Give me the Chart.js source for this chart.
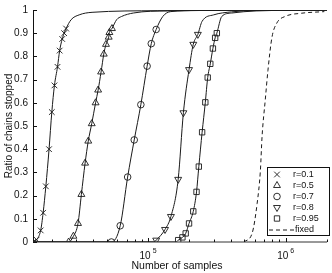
<!DOCTYPE html>
<html>
<head>
<meta charset="utf-8">
<script src="https://cdn.jsdelivr.net/npm/chart.js@4"></script>
<style>
  html, body { margin: 0; padding: 0; background: #fff; }
  #wrap { width: 332px; height: 273px; }
</style>
</head>
<body>
<div id="wrap"><canvas id="chart" width="332" height="273"></canvas></div>
<script>
// axis range and ticks
const xMin = 14600;
const xMax = 2000000;
const yTicks = [0, 0.1, 0.2, 0.3, 0.4, 0.5, 0.6, 0.7, 0.8, 0.9, 1];
const decadeLabels = [{ v: 1e5, base: '10', exp: '5' }, { v: 1e6, base: '10', exp: '6' }];
const xTitle = 'Number of samples';
const yTitle = 'Ratio of chains stopped';

const seriesLabels = ['r=0.1', 'r=0.5', 'r=0.7', 'r=0.8', 'r=0.95', 'fixed'];

// r = 0.1 (markers, then the rest of the curve)
const r01X = [14600, 15500, 16600, 17300, 18100, 19100, 20000, 20900, 22000, 22800, 23800, 24600, 25400];
const r01Y = [0, 0.01, 0.05, 0.126, 0.24, 0.40, 0.56, 0.675, 0.755, 0.825, 0.875, 0.90, 0.92];
const r01TailX = [27600, 31600, 39200, 117900];
const r01TailY = [0.958, 0.979, 0.99, 0.997];

// r = 0.5
const r05X = [26500, 28700, 31000, 32800, 34900, 36800, 39000, 41600, 43400, 45600, 47700, 49500, 51800, 52400, 54700];
const r05Y = [0, 0.025, 0.08, 0.205, 0.34, 0.435, 0.51, 0.60, 0.655, 0.733, 0.81, 0.852, 0.883, 0.903, 0.92];
const r05TailX = [59100, 64200, 78200, 139000];
const r05TailY = [0.958, 0.972, 0.987, 0.996];

// r = 0.7
const r07X = [54200, 62800, 71100, 79400, 88700, 98500, 105600, 114600];
const r07Y = [0, 0.07, 0.28, 0.44, 0.592, 0.758, 0.855, 0.916];
const r07TailX = [128000, 146000, 227000];
const r07TailY = [0.972, 0.993, 0.998];

// r = 0.8
const r08X = [114600, 132900, 146700, 165600, 180700, 198600, 213200, 230200];
const r08Y = [0.008, 0.054, 0.11, 0.27, 0.557, 0.743, 0.852, 0.895];
const r08LeadX = [110000];
const r08TailX = [247000, 299600, 405000, 600000];
const r08TailY = [0.951, 0.979, 0.992, 0.998];

// r = 0.95
const r095X = [165600, 177800, 187800, 198600, 213200, 225100, 233900, 247200, 260800, 271400, 283400, 296000, 307400, 316200];
const r095Y = [0.008, 0.02, 0.037, 0.08, 0.132, 0.216, 0.325, 0.473, 0.602, 0.709, 0.768, 0.834, 0.88, 0.90];
const r095LeadX = [160000];
const r095TailX = [343300, 405000, 610000];
const r095TailY = [0.972, 0.987, 0.996];

// fixed (dashed curve, no markers)
const fixedX = [498700, 571500, 620500, 655000, 674000, 711000, 743500, 794300, 862900, 988500, 1300000, 1910000];
const fixedY = [0, 0.039, 0.166, 0.307, 0.456, 0.613, 0.74, 0.881, 0.944, 0.972, 0.986, 0.993];

const ink = '#1a1a1a';
const fontFamily = '"Liberation Sans", Arial, Helvetica, sans-serif';

function pts(xs, ys) {
  return xs.map((x, i) => ({ x: x, y: ys[i] }));
}

function curve(leadX, xs, ys, tailX, tailY) {
  let out = [];
  if (xs[0] > xMin) out.push({ x: xMin, y: 0 });
  leadX.forEach(x => out.push({ x: x, y: 0 }));
  out = out.concat(pts(xs, ys), pts(tailX, tailY));
  out.push({ x: xMax, y: 1 });
  return out;
}

function lineSet(data, dashed) {
  return {
    type: 'line',
    data: data,
    borderColor: ink,
    borderWidth: 1,
    borderDash: dashed ? [4, 3] : [],
    pointRadius: 0,
    cubicInterpolationMode: 'monotone',
    fill: false,
    order: 2
  };
}

function markerSet(label, xs, ys, style, radius, rotation) {
  return {
    type: 'scatter',
    label: label,
    data: pts(xs, ys),
    showLine: false,
    pointStyle: style,
    pointRadius: radius,
    pointRotation: rotation || 0,
    pointBorderColor: ink,
    pointBorderWidth: 0.9,
    pointBackgroundColor: 'rgba(255,255,255,0)',
    order: 1
  };
}

const markerDefs = [
  { style: 'crossRot', radius: 4, rot: 0 },
  { style: 'triangle', radius: 4, rot: 0 },
  { style: 'circle', radius: 3.3, rot: 0 },
  { style: 'triangle', radius: 4, rot: 180 },
  { style: 'rect', radius: 3.8, rot: 0 }
];

const datasets = [
  lineSet(curve([], r01X, r01Y, r01TailX, r01TailY)),
  lineSet(curve([], r05X, r05Y, r05TailX, r05TailY)),
  lineSet(curve([], r07X, r07Y, r07TailX, r07TailY)),
  lineSet(curve(r08LeadX, r08X, r08Y, r08TailX, r08TailY)),
  lineSet(curve(r095LeadX, r095X, r095Y, r095TailX, r095TailY)),
  lineSet(pts(fixedX, fixedY), true),
  markerSet(seriesLabels[0], r01X, r01Y, markerDefs[0].style, markerDefs[0].radius),
  markerSet(seriesLabels[1], r05X, r05Y, markerDefs[1].style, markerDefs[1].radius),
  markerSet(seriesLabels[2], r07X, r07Y, markerDefs[2].style, markerDefs[2].radius),
  markerSet(seriesLabels[3], r08X, r08Y, markerDefs[3].style, markerDefs[3].radius, 180),
  markerSet(seriesLabels[4], r095X, r095Y, markerDefs[4].style, markerDefs[4].radius)
];

// axis lines, inward ticks, decade labels, x title and the boxed legend
const decoPlugin = {
  id: 'deco',
  afterDraw(chart) {
    const ctx = chart.ctx;
    const a = chart.chartArea;
    const x = chart.scales.x;
    const y = chart.scales.y;
    ctx.save();
    ctx.lineWidth = 1;

    ctx.strokeStyle = '#111';
    ctx.beginPath();
    ctx.moveTo(a.left + 0.5, a.top);
    ctx.lineTo(a.left + 0.5, a.bottom);
    ctx.stroke();

    ctx.strokeStyle = '#333';
    ctx.beginPath();
    ctx.moveTo(a.left, a.bottom);
    ctx.lineTo(a.right, a.bottom);
    ctx.stroke();

    ctx.strokeStyle = '#111';
    yTicks.forEach(v => {
      const py = Math.round(y.getPixelForValue(v)) + 0.5;
      ctx.beginPath();
      ctx.moveTo(a.left, py);
      ctx.lineTo(a.left + 4, py);
      ctx.stroke();
    });

    for (let e = 4; e <= 6; e++) {
      for (let m = 1; m <= 9; m++) {
        const v = m * Math.pow(10, e);
        if (v < xMin || v > xMax) continue;
        const px = Math.round(x.getPixelForValue(v)) + 0.5;
        const len = m === 1 ? 4 : 2.5;
        ctx.beginPath();
        ctx.moveTo(px, a.bottom);
        ctx.lineTo(px, a.bottom - len);
        ctx.stroke();
      }
    }

    ctx.fillStyle = '#111';
    ctx.textBaseline = 'alphabetic';
    ctx.textAlign = 'left';
    decadeLabels.forEach(d => {
      const px = x.getPixelForValue(d.v);
      ctx.font = '10px ' + fontFamily;
      const w1 = ctx.measureText(d.base).width;
      ctx.font = '7px ' + fontFamily;
      const w2 = ctx.measureText(d.exp).width;
      const start = px - (w1 + 2 + w2) / 2;
      ctx.font = '10px ' + fontFamily;
      ctx.fillText(d.base, start, 259);
      ctx.font = '7px ' + fontFamily;
      ctx.fillText(d.exp, start + w1 + 2, 253);
    });

    ctx.font = '10.5px ' + fontFamily;
    ctx.textAlign = 'center';
    ctx.fillText(xTitle, 177, 269);

    // legend
    const box = { l: 267.5, t: 167.5, r: 329.5, b: 235.5 };
    ctx.fillStyle = '#fff';
    ctx.fillRect(box.l, box.t, box.r - box.l, box.b - box.t);
    ctx.strokeStyle = '#111';
    ctx.strokeRect(box.l, box.t, box.r - box.l, box.b - box.t);
    ctx.font = '9px ' + fontFamily;
    ctx.textAlign = 'left';
    ctx.textBaseline = 'middle';
    seriesLabels.forEach((label, i) => {
      const ly = 174.5 + i * 11;
      ctx.strokeStyle = ink;
      if (i < markerDefs.length) {
        const md = markerDefs[i];
        ctx.fillStyle = 'rgba(255,255,255,0)';
        ctx.lineWidth = 0.9;
        Chart.helpers.drawPoint(ctx, {
          pointStyle: md.style,
          radius: md.radius,
          rotation: md.rot,
          borderWidth: 0.9
        }, 277, ly);
        ctx.fillStyle = '#111';
        ctx.fillText(label, 293, ly);
      } else {
        ctx.lineWidth = 1;
        ctx.setLineDash([4, 3]);
        ctx.beginPath();
        ctx.moveTo(269, ly + 0.5);
        ctx.lineTo(294, ly + 0.5);
        ctx.stroke();
        ctx.setLineDash([]);
        ctx.fillStyle = '#111';
        ctx.fillText(label, 295, ly);
      }
    });
    ctx.restore();
  }
};

new Chart(document.getElementById('chart'), {
  data: { datasets: datasets },
  options: {
    responsive: false,
    animation: false,
    devicePixelRatio: 1,
    layout: { padding: { top: 5, right: 0, left: 0, bottom: 0 } },
    plugins: {
      legend: { display: false },
      tooltip: { enabled: false }
    },
    scales: {
      x: {
        type: 'logarithmic',
        min: xMin,
        max: xMax,
        grid: { display: false, drawTicks: false },
        border: { display: false },
        ticks: { display: false },
        title: { display: false },
        afterFit(scale) { scale.height = 31; }
      },
      y: {
        type: 'linear',
        min: 0,
        max: 1,
        grid: { display: false, drawTicks: false },
        border: { display: false },
        ticks: {
          stepSize: 0.1,
          padding: 5,
          color: '#111',
          font: { family: fontFamily, size: 10, lineHeight: 1 },
          callback: v => String(Math.round(v * 10) / 10)
        },
        title: {
          display: true,
          text: yTitle,
          color: '#111',
          font: { family: fontFamily, size: 10 },
          padding: { top: 3, bottom: 0 }
        },
        afterFit(scale) { scale.width = 33; }
      }
    }
  },
  plugins: [decoPlugin]
});
</script>
</body>
</html>
